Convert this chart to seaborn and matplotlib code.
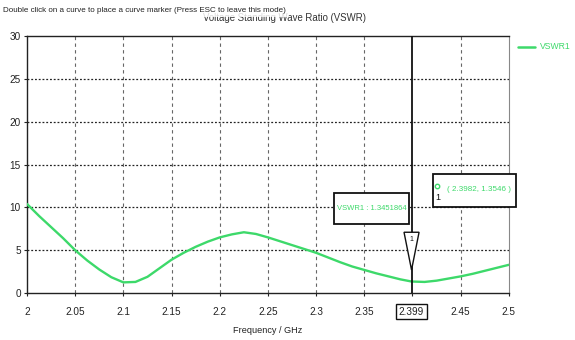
import matplotlib
matplotlib.use("Agg")
import matplotlib.pyplot as plt
import seaborn as sns
import pandas as pd
from matplotlib.patches import Polygon, Rectangle

# Frequency sweep (GHz) and VSWR readings
freq_ghz = [2.0, 2.0125, 2.025, 2.0375, 2.05, 2.0625, 2.075, 2.0875, 2.1, 2.1125,
            2.125, 2.1375, 2.15, 2.1625, 2.175, 2.1875, 2.2, 2.2125, 2.225, 2.2375,
            2.25, 2.2625, 2.275, 2.2875, 2.3, 2.3125, 2.325, 2.3375, 2.35, 2.3625,
            2.375, 2.3875, 2.399, 2.4125, 2.425, 2.4375, 2.45, 2.4625, 2.475, 2.4875, 2.5]
vswr = [10.4, 9.0, 7.7, 6.4, 5.0, 3.8, 2.75, 1.85, 1.25, 1.3,
        1.9, 2.9, 3.9, 4.7, 5.4, 6.0, 6.5, 6.85, 7.1, 6.9,
        6.5, 6.05, 5.6, 5.15, 4.7, 4.15, 3.6, 3.1, 2.7, 2.3,
        1.95, 1.6, 1.35, 1.3, 1.45, 1.7, 1.95, 2.25, 2.6, 2.95, 3.3]

x_ticks = [2.0, 2.05, 2.1, 2.15, 2.2, 2.25, 2.3, 2.35, 2.399, 2.45, 2.5]
x_tick_labels = ["2", "2.05", "2.1", "2.15", "2.2", "2.25", "2.3", "2.35", "2.399", "2.45", "2.5"]
y_ticks = [0, 5, 10, 15, 20, 25, 30]

marker_freq = 2.399
marker_value = 1.3451864
probe_point = (2.3982, 1.3546)

GREEN = "#3dd96a"
INK = "#222222"

sns.set_theme(style="white")
plt.rcParams["font.family"] = ["Liberation Sans", "DejaVu Sans"]

df = pd.DataFrame({"Frequency": freq_ghz, "VSWR1": vswr})

fig = plt.figure(figsize=(5.75, 3.4), dpi=100)
ax = fig.add_axes([0.047, 0.138, 0.838, 0.756])

sns.lineplot(data=df, x="Frequency", y="VSWR1", ax=ax, color=GREEN, lw=1.7,
             legend=False, zorder=3)

ax.set_xlim(2.0, 2.5)
ax.set_ylim(0, 30)
ax.set_xticks(x_ticks)
ax.set_xticklabels(x_tick_labels, fontsize=7.2, color=INK)
ax.set_yticks(y_ticks)
ax.set_yticklabels([str(v) for v in y_ticks], fontsize=7.2, color=INK)
ax.tick_params(axis="both", length=2.5, width=0.8, color=INK, direction="out",
               bottom=True, left=True)
ax.tick_params(axis="x", pad=7.5)
ax.tick_params(axis="y", pad=2)

# grid: dashed verticals, dotted horizontals
for xv in x_ticks:
    if xv in (2.0, 2.5, marker_freq):
        continue
    ax.axvline(xv, color="#666666", lw=0.8, ls=(0, (3, 3)), zorder=1)
for yv in y_ticks[1:-1]:
    ax.axhline(yv, color=INK, lw=0.9, ls=(0, (1.5, 1.5)), zorder=1)

for side in ["left", "bottom", "top"]:
    ax.spines[side].set_color(INK)
    ax.spines[side].set_linewidth(1.0)
ax.spines["right"].set_color("#888888")
ax.spines["right"].set_linewidth(0.8)

ax.set_xlabel("Frequency / GHz", fontsize=6.6, color=INK, labelpad=6.5)
ax.set_ylabel("")

# boxed marker tick label
for lbl in ax.get_xticklabels():
    if lbl.get_text() == "2.399":
        lbl.set_bbox(dict(boxstyle="square,pad=0.25", fc="white", ec="#111111", lw=1.0))

# marker line
ax.axvline(marker_freq, color="#111111", lw=1.3, zorder=4)

# marker triangle with index
tri = Polygon([(marker_freq - 0.0078, 7.1), (marker_freq + 0.0078, 7.1),
               (marker_freq, 2.7)], closed=True,
              fc="white", ec="#111111", lw=1.0, zorder=5)
ax.add_patch(tri)
ax.text(marker_freq, 6.2, "1", fontsize=5, ha="center", va="center",
        color="#111111", zorder=6)

# value readout box
ax.add_patch(Rectangle((2.3185, 8.05), 0.0778, 3.62, fc="white", ec="#111111",
                       lw=1.3, zorder=6, clip_on=False))
ax.text(2.3574, 9.86, f"VSWR1 : {marker_value:.7f}", fontsize=5.5, color=GREEN,
        ha="center", va="center", zorder=7)

# probe readout box
ax.add_patch(Rectangle((2.4212, 10.1), 0.0861, 3.85, fc="white", ec="#111111",
                       lw=1.3, zorder=6, clip_on=False))
ax.text(2.4685, 12.1, f"( {probe_point[0]:.4f}, {probe_point[1]:.4f} )", fontsize=5.8,
        color=GREEN, ha="center", va="center", zorder=7, clip_on=False)
ax.plot([2.4258], [12.55], marker="o", ms=3.2, mfc="none", mec=GREEN, mew=1.0,
        zorder=7, clip_on=False)
ax.text(2.4262, 11.1, "1", fontsize=6.5, color="#111111", ha="center",
        va="center", zorder=7)

# legend outside the plot area
fig.lines.append(plt.Line2D([0.901, 0.931], [0.862, 0.862], color=GREEN, lw=1.8,
                            transform=fig.transFigure))
fig.text(0.939, 0.862, "VSWR1", fontsize=6.2, color=GREEN, va="center", ha="left")

# title and status line
fig.text(0.494, 0.948, "Voltage Standing Wave Ratio (VSWR)", fontsize=6.9,
         color="#333333", ha="center", va="center")
fig.text(0.006, 0.968, "Double click on a curve to place a curve marker (Press ESC to leave this mode)",
         fontsize=5.8, color=INK, ha="left", va="center",
         bbox=dict(boxstyle="square,pad=0.35", fc=(1, 1, 1, 0.82), ec="none"))

fig.savefig("out.png", dpi=100, facecolor="white")
